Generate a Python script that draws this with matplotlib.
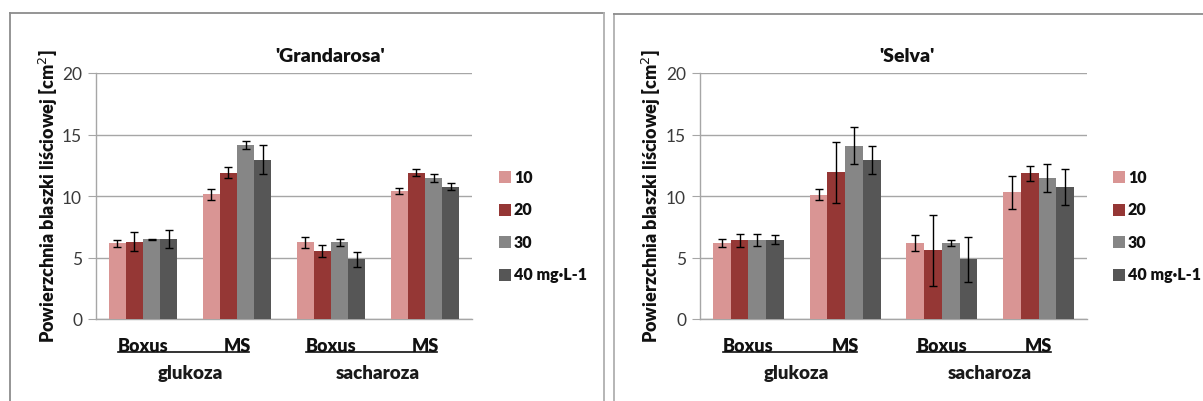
import matplotlib
matplotlib.use("Agg")
import matplotlib.pyplot as plt
from matplotlib.patches import Rectangle
from matplotlib.lines import Line2D
import numpy as np

plt.rcParams['font.family'] = ['Lato', 'DejaVu Sans']

media = ["Boxus", "MS", "Boxus", "MS"]
sugars = ["glukoza", "sacharoza"]
series = ["10", "20", "30", "40 mg·L-1"]
colors = ["#D99594", "#953735", "#868686", "#565656"]

# Grandarosa: rows = series (10, 20, 30, 40), columns = categories
gr_vals = [
    [6.16, 10.14, 6.24, 10.38],
    [6.30, 11.90, 5.54, 11.90],
    [6.49, 14.14, 6.24, 11.49],
    [6.49, 12.95, 4.86, 10.76],
]
gr_err = [
    [0.30, 0.43, 0.43, 0.23],
    [0.80, 0.46, 0.49, 0.27],
    [0.03, 0.30, 0.28, 0.33],
    [0.75, 1.19, 0.62, 0.30],
]
# Selva
se_vals = [
    [6.18, 10.12, 6.20, 10.31],
    [6.39, 11.92, 5.58, 11.84],
    [6.45, 14.10, 6.20, 11.48],
    [6.45, 12.90, 4.84, 10.75],
]
se_err = [
    [0.30, 0.45, 0.65, 1.35],
    [0.52, 2.50, 2.87, 0.63],
    [0.48, 1.47, 0.23, 1.16],
    [0.35, 1.14, 1.82, 1.48],
]

W, H = 1203, 402
fig = plt.figure(figsize=(W / 100, H / 100), dpi=100)
fig.patch.set_facecolor("white")

def fx(px):
    return px / W

def fy(py):
    return 1 - py / H

TXT = "#111111"

# panel borders
fig.add_artist(Line2D([fx(10), fx(10)], [fy(14), fy(410)], color="#8c8c8c", lw=1.3))
fig.add_artist(Line2D([fx(10), fx(604)], [fy(14), fy(14)], color="#8c8c8c", lw=1.3))
fig.add_artist(Line2D([fx(604), fx(604)], [fy(14), fy(410)], color="#b0b0b0", lw=1.3))
fig.add_artist(Line2D([fx(614), fx(614)], [fy(15), fy(410)], color="#b0b0b0", lw=1.3))
fig.add_artist(Line2D([fx(614), fx(1210)], [fy(15), fy(15)], color="#8c8c8c", lw=1.3))

def panel(x0, x1, vals, errs, title, title_x, ylabel_x, leg_x):
    top, bot = 74, 320
    ax = fig.add_axes([fx(x0), fy(bot), fx(x1 - x0), (bot - top) / H])
    x = np.arange(len(media))
    bw = 0.183
    for i in range(len(series)):
        off = (i - 1.5) * bw
        ax.bar(x + off, vals[i], bw, color=colors[i], zorder=3,
               yerr=errs[i], error_kw=dict(ecolor="black", elinewidth=1.0,
                                           capsize=3.2, capthick=1.0, zorder=4))
    ax.set_xlim(-0.5, 3.5)
    ax.set_ylim(0, 20)
    ax.set_yticks([0, 5, 10, 15, 20])
    ax.yaxis.grid(True, color="#a6a6a6", lw=1.0, zorder=0)
    ax.set_axisbelow(True)
    for s in ["top", "right"]:
        ax.spines[s].set_visible(False)
    ax.spines["left"].set_color("#a6a6a6")
    ax.spines["bottom"].set_color("#a6a6a6")
    ax.spines["left"].set_linewidth(1.0)
    ax.spines["bottom"].set_linewidth(1.0)
    ax.tick_params(axis="y", length=6, color="#a6a6a6", labelsize=12.5,
                   labelcolor="#3a3a3a", pad=4)
    ax.set_xticks([])
    ax.tick_params(axis="x", length=0)
    # category labels
    cw = (x1 - x0) / 4
    for k, m in enumerate(media):
        cx = x0 + cw * (k + 0.5)
        fig.text(fx(cx), fy(352), m, ha="center", va="baseline",
                 fontsize=13, fontweight="heavy", color=TXT)
    for j, s in enumerate(sugars):
        c1 = x0 + cw * (2 * j + 0.5)
        c2 = x0 + cw * (2 * j + 1.5)
        fig.add_artist(Line2D([fx(c1 - 25), fx(c2 + 12)], [fy(353), fy(353)],
                              color=TXT, lw=1.2))
        fig.text(fx((c1 + c2) / 2), fy(379), s, ha="center", va="baseline",
                 fontsize=13.5, fontweight="heavy", color="#1a1a1a")
    fig.text(fx(title_x), fy(57), title, ha="center", va="center",
             fontsize=14, fontweight="heavy", color=TXT)
    fig.text(fx(ylabel_x), fy(196), "Powierzchnia blaszki liściowej [cm$^2$]",
             rotation=90, ha="center", va="center", fontsize=13,
             fontweight="heavy", color=TXT)
    for i, lab in enumerate(series):
        yc = 178 + i * 32.5
        fig.add_artist(Rectangle((fx(leg_x), fy(yc + 6)), fx(12), 12 / H,
                                 facecolor=colors[i], edgecolor="none"))
        fig.text(fx(leg_x + 15), fy(yc), lab, ha="left", va="center",
                 fontsize=11.5, fontweight="heavy", color=TXT)
    return ax

panel(96, 472, gr_vals, gr_err, "'Grandarosa'", 330, 48, 499)
panel(700, 1087, se_vals, se_err, "'Selva'", 907, 651, 1113)

fig.savefig("out.png", dpi=100, facecolor="white")
